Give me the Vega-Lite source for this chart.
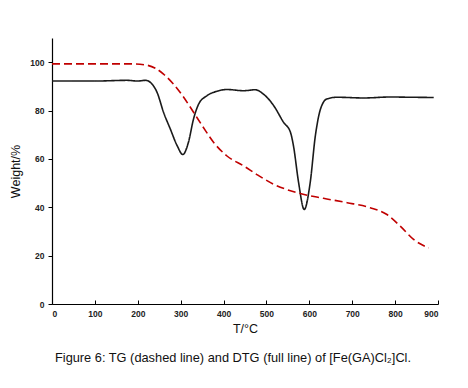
{
  "$schema": "https://vega.github.io/schema/vega-lite/v6.json",
  "width": 386,
  "height": 266,
  "autosize": {"type": "none"},
  "padding": {"left": 52, "top": 38, "right": 30, "bottom": 84},
  "background": "white",
  "config": {
    "view": {"stroke": null},
    "font": "Liberation Sans"
  },
  "title": {
    "text": "Figure 6: TG (dashed line) and DTG (full line) of [Fe(GA)Cl₂]Cl.",
    "orient": "bottom",
    "anchor": "middle",
    "offset": 17,
    "dx": -12,
    "font": "Liberation Sans",
    "fontSize": 12.8,
    "fontWeight": "normal",
    "color": "#111111"
  },
  "data": {
    "values": [
      {"T": 0, "v": 92.2, "s": "DTG"},
      {"T": 100, "v": 92.2, "s": "DTG"},
      {"T": 175, "v": 92.5, "s": "DTG"},
      {"T": 200, "v": 92.2, "s": "DTG"},
      {"T": 218, "v": 92.5, "s": "DTG"},
      {"T": 233, "v": 91, "s": "DTG"},
      {"T": 245, "v": 87.5, "s": "DTG"},
      {"T": 260, "v": 79.3, "s": "DTG"},
      {"T": 276, "v": 72.3, "s": "DTG"},
      {"T": 292, "v": 65.4, "s": "DTG"},
      {"T": 305, "v": 61.8, "s": "DTG"},
      {"T": 318, "v": 66.8, "s": "DTG"},
      {"T": 330, "v": 76.5, "s": "DTG"},
      {"T": 342, "v": 82.7, "s": "DTG"},
      {"T": 361, "v": 86.1, "s": "DTG"},
      {"T": 385, "v": 88, "s": "DTG"},
      {"T": 408, "v": 88.7, "s": "DTG"},
      {"T": 447, "v": 88.2, "s": "DTG"},
      {"T": 474, "v": 88.6, "s": "DTG"},
      {"T": 493, "v": 86.8, "s": "DTG"},
      {"T": 517, "v": 82, "s": "DTG"},
      {"T": 540, "v": 75.1, "s": "DTG"},
      {"T": 556, "v": 71, "s": "DTG"},
      {"T": 563, "v": 65.4, "s": "DTG"},
      {"T": 575, "v": 50.2, "s": "DTG"},
      {"T": 588, "v": 39.1, "s": "DTG"},
      {"T": 602, "v": 50.2, "s": "DTG"},
      {"T": 614, "v": 69.5, "s": "DTG"},
      {"T": 626, "v": 80.6, "s": "DTG"},
      {"T": 641, "v": 84.8, "s": "DTG"},
      {"T": 664, "v": 85.5, "s": "DTG"},
      {"T": 727, "v": 85.2, "s": "DTG"},
      {"T": 789, "v": 85.6, "s": "DTG"},
      {"T": 835, "v": 85.5, "s": "DTG"},
      {"T": 890, "v": 85.4, "s": "DTG"},
      {"T": 0, "v": 99.3, "s": "TG"},
      {"T": 100, "v": 99.3, "s": "TG"},
      {"T": 183, "v": 99.3, "s": "TG"},
      {"T": 217, "v": 98.9, "s": "TG"},
      {"T": 241, "v": 97.5, "s": "TG"},
      {"T": 260, "v": 95.1, "s": "TG"},
      {"T": 283, "v": 91, "s": "TG"},
      {"T": 307, "v": 85.5, "s": "TG"},
      {"T": 330, "v": 79.3, "s": "TG"},
      {"T": 353, "v": 73, "s": "TG"},
      {"T": 377, "v": 66.8, "s": "TG"},
      {"T": 408, "v": 61.2, "s": "TG"},
      {"T": 447, "v": 57.1, "s": "TG"},
      {"T": 480, "v": 53.3, "s": "TG"},
      {"T": 517, "v": 49.5, "s": "TG"},
      {"T": 570, "v": 46.1, "s": "TG"},
      {"T": 633, "v": 43.7, "s": "TG"},
      {"T": 688, "v": 41.9, "s": "TG"},
      {"T": 742, "v": 39.8, "s": "TG"},
      {"T": 781, "v": 37, "s": "TG"},
      {"T": 812, "v": 32.2, "s": "TG"},
      {"T": 843, "v": 26.7, "s": "TG"},
      {"T": 878, "v": 23.2, "s": "TG"}
    ]
  },
  "mark": {"type": "line", "interpolate": "monotone", "strokeWidth": 1.6},
  "encoding": {
    "x": {
      "field": "T",
      "type": "quantitative",
      "scale": {"domain": [0, 900], "nice": false},
      "axis": {
        "title": "T/°C",
        "values": [0, 100, 200, 300, 400, 500, 600, 700, 800, 900],
        "grid": false,
        "domainColor": "#000000",
        "domainWidth": 1.2,
        "tickColor": "#000000",
        "tickSize": -4,
        "labelPadding": 9,
        "labelFont": "Liberation Sans",
        "labelFontSize": 8.5,
        "labelFontWeight": "bold",
        "labelColor": "#222222",
        "titleFont": "Liberation Sans",
        "titleFontSize": 12.5,
        "titleFontWeight": "normal",
        "titleColor": "#111111",
        "titlePadding": 5
      }
    },
    "y": {
      "field": "v",
      "type": "quantitative",
      "scale": {"domain": [0, 110], "nice": false},
      "axis": {
        "title": "Weight/%",
        "values": [0, 20, 40, 60, 80, 100],
        "grid": false,
        "domainColor": "#000000",
        "domainWidth": 1.2,
        "tickColor": "#000000",
        "tickSize": 4,
        "labelPadding": 4,
        "labelFont": "Liberation Sans",
        "labelFontSize": 8.5,
        "labelFontWeight": "bold",
        "labelColor": "#222222",
        "titleFont": "Liberation Sans",
        "titleFontSize": 12.5,
        "titleFontWeight": "normal",
        "titleColor": "#111111",
        "titlePadding": 7
      }
    },
    "color": {
      "field": "s",
      "type": "nominal",
      "scale": {"domain": ["DTG", "TG"], "range": ["#1a1a1a", "#c00000"]},
      "legend": null
    },
    "strokeDash": {
      "field": "s",
      "type": "nominal",
      "scale": {"domain": ["DTG", "TG"], "range": [[1, 0], [8, 4]]},
      "legend": null
    }
  }
}
